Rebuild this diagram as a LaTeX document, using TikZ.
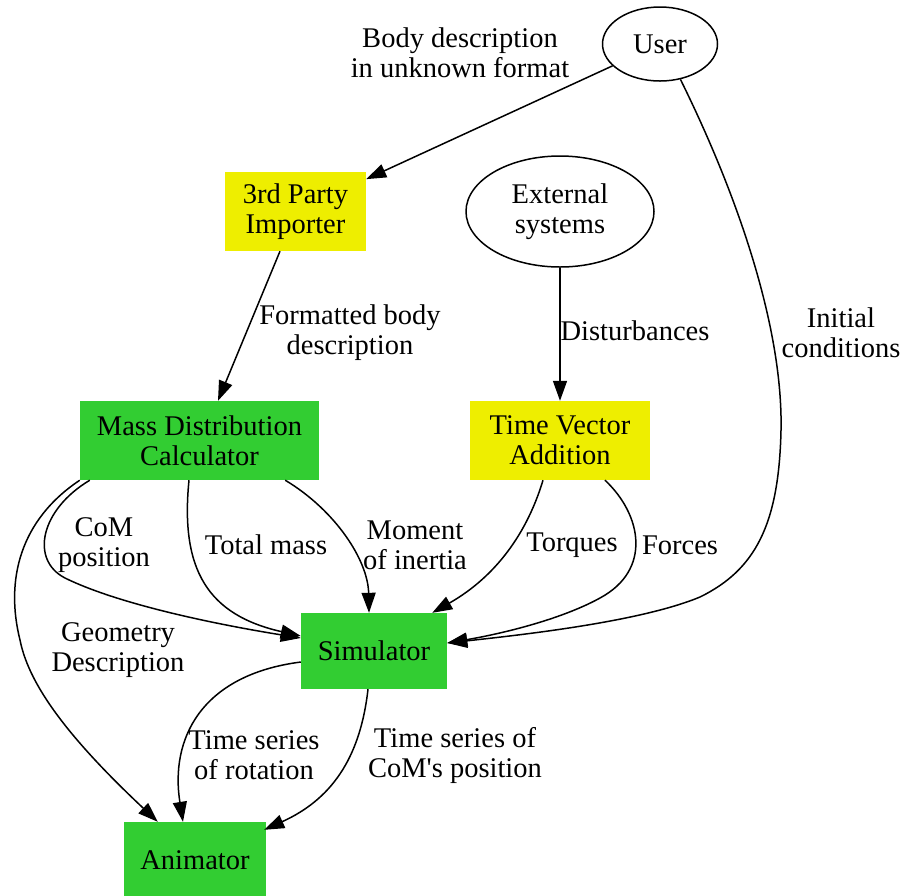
\documentclass[tikz,border=0pt]{standalone}
\usepackage{fontspec}
\setmainfont{Liberation Serif}
\usetikzlibrary{shapes.geometric,arrows.meta,calc}
\definecolor{gvgreen}{HTML}{32CD32}
\definecolor{gvyellow}{HTML}{EEEE00}
\newcommand{\dgfont}{\fontsize{28.5}{30}\selectfont}
\tikzset{
  box/.style={rectangle, draw=none, inner sep=0pt, align=center, font=\dgfont},
  greenbox/.style={box, fill=gvgreen},
  yellowbox/.style={box, fill=gvyellow},
  ell/.style={ellipse, draw, line width=1.5pt, inner sep=0pt, align=center, font=\dgfont},
  lbl/.style={inner sep=0pt, align=center, font=\dgfont},
  arr/.style={line width=1.5pt, -{Triangle[length=20pt,width=14pt]}}
}
\begin{document}
\begin{tikzpicture}[x=1pt,y=-1pt]
\useasboundingbox[fill=white] (0,0) rectangle (901,895);
% nodes
\node[ell, minimum width=115pt, minimum height=74pt] (user) at (660,44) {User};
\node[ell, minimum width=188pt, minimum height=111pt] (ext) at (560,211.5) {External\\systems};
\node[yellowbox, minimum width=141pt, minimum height=79pt] (imp) at (295.5,211.5) {3rd Party\\Importer};
\node[greenbox, minimum width=239pt, minimum height=79pt] (mass) at (199.5,440.5) {Mass Distribution\\Calculator};
\node[yellowbox, minimum width=180pt, minimum height=79pt] (tva) at (560,440.5) {Time Vector\\Addition};
\node[greenbox, minimum width=146pt, minimum height=76pt] (sim) at (374,651) {Simulator};
\node[greenbox, minimum width=142pt, minimum height=76pt] (anim) at (195,860) {Animator};
% edges
\draw[arr] (user) -- (imp);
\draw[arr] ($(imp.south)+(-15.5,0)$) -- ($(mass.north)+(18.5,0)$);
\draw[arr] (ext) -- (tva);
\draw[arr] (user.-60) .. controls (740,200) and (783,330) .. (781,430)
  .. controls (779,525) and (755,570) .. (700,597)
  .. controls (640,622) and (520,635) .. ($(sim.east)+(0,-8)$);
\draw[arr] ($(mass.south west)+(10,0)$) .. controls (40,510) and (30,560) .. (65,578)
  .. controls (120,605) and (220,625) .. ($(sim.west)+(0,-13)$);
\draw[arr] ($(mass.south)+(-10.5,0)$) .. controls (180,570) and (208,615) .. ($(sim.west)+(0,-15)$);
\draw[arr] ($(mass.south east)+(-34,0)$) .. controls (335,510) and (368,560) .. ($(sim.north)+(-5,0)$);
\draw[arr] ($(tva.south)+(-17,0)$) .. controls (525,540) and (490,580) .. ($(sim.north east)+(-15,0)$);
\draw[arr] ($(tva.south)+(45,0)$) .. controls (642,515) and (652,570) .. (600,598)
  .. controls (560,620) and (500,634) .. ($(sim.east)+(0,-8)$);
\draw[arr] (mass.south west) .. controls (20,520) and (5,580) .. (20,640)
  .. controls (28,680) and (60,730) .. ($(anim.north west)+(34,0)$);
\draw[arr] ($(sim.west)+(0,11)$) .. controls (200,675) and (170,740) .. ($(anim.north)+(-12,0)$);
\draw[arr] ($(sim.south)+(-6,0)$) .. controls (360,760) and (330,800) .. ($(anim.north east)+(-2,8)$);
% labels
\node[lbl] (l1) at (460,53) {Body description\\in unknown format};
\node[lbl] (l2) at (350,333) {Formatted body\\description};
\node[lbl] (l3) at (635,331) {Disturbances};
\node[lbl] (l4) at (841,333) {Initial\\conditions};
\node[lbl] (l5) at (104,545) {CoM\\position};
\node[lbl] (l6) at (266,545) {Total mass};
\node[lbl] (l7) at (415,545) {Moment\\of inertia};
\node[lbl] (l8) at (572,545) {Torques};
\node[lbl] (l9) at (680,545) {Forces};
\node[lbl] (l10) at (118,650) {Geometry\\Description};
\node[lbl] (l11) at (254,755) {Time series\\of rotation};
\node[lbl] (l12) at (455,755) {Time series of\\CoM\textquotesingle s position};
\end{tikzpicture}
\end{document}
